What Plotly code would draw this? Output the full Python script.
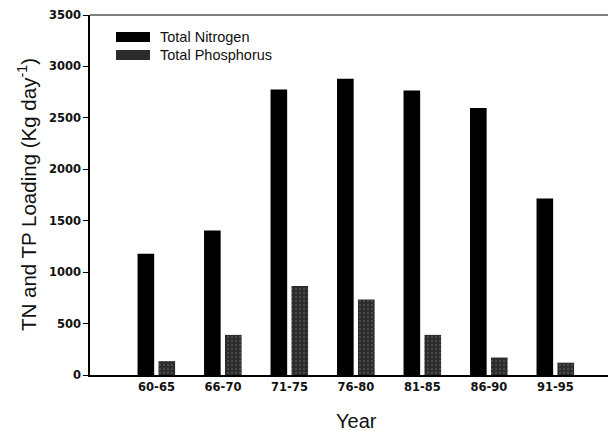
import plotly.graph_objects as go

periods = ["60-65", "66-70", "71-75", "76-80", "81-85", "86-90", "91-95"]
total_nitrogen = [1180, 1405, 2775, 2880, 2765, 2595, 1715]
total_phosphorus = [135, 390, 865, 735, 390, 170, 120]
y_ticks = [0, 500, 1000, 1500, 2000, 2500, 3000, 3500]
series_names = ["Total Nitrogen", "Total Phosphorus"]

TN_COLOR = "#000000"
TP_COLOR = "#2b2b2b"
TP_PATTERN = dict(shape=".", fgcolor="#6a6a6a", size=4, solidity=0.25)

W, H = 608, 431
ML, MR, MT, MB = 90, 0, 15, 56

fig = go.Figure()
fig.add_trace(go.Bar(
    x=periods, y=total_nitrogen, name=series_names[0],
    marker=dict(color=TN_COLOR, line=dict(width=0)),
    width=0.25, offset=-0.285,
))
fig.add_trace(go.Bar(
    x=periods, y=total_phosphorus, name=series_names[1],
    marker=dict(color=TP_COLOR, line=dict(width=0), pattern=TP_PATTERN),
    width=0.25, offset=0.03,
))

tick_font = dict(size=11.5, family="DejaVu Sans, Arial, sans-serif", weight="bold", color="#111")

fig.update_layout(
    width=W, height=H,
    margin=dict(l=ML, r=MR, t=MT, b=MB, autoexpand=False),
    paper_bgcolor="white", plot_bgcolor="white",
    font=dict(family="Arial, Liberation Sans, sans-serif", color="#000"),
    showlegend=False,
    xaxis=dict(
        type="category", range=[-1.0, 6.79], automargin=False,
        showline=True, linecolor="#000", linewidth=1.5,
        ticks="", showgrid=False, zeroline=False,
        tickfont=tick_font,
    ),
    yaxis=dict(
        range=[0, 3500], tickvals=y_ticks, automargin=False,
        showline=True, linecolor="#000", linewidth=1.5,
        ticks="outside", ticklen=5, tickcolor="#000",
        showgrid=False, zeroline=False,
        tickfont=tick_font,
    ),
)

# frame line on top
fig.add_shape(type="line", xref="paper", yref="paper", x0=0, x1=1, y0=1, y1=1,
              line=dict(color="#555", width=1.5))

# axis titles
fig.add_annotation(text="TN and TP Loading (Kg day<sup>-1</sup>)", xref="paper", yref="paper",
                   x=-(ML - 27) / (W - ML - MR), y=0.5, textangle=-90,
                   showarrow=False, font=dict(size=20.5, color="#111"),
                   xanchor="center", yanchor="middle")
fig.add_annotation(text="Year", xref="paper", yref="paper",
                   x=(356 - ML) / (W - ML - MR), y=-(421 - (H - MB)) / (H - MT - MB),
                   showarrow=False, font=dict(size=20, color="#111"),
                   xanchor="center", yanchor="middle")

# legend drawn as swatches + text
pw, ph = W - ML - MR, H - MT - MB
legend_rows = [(37, TN_COLOR, None), (55, TP_COLOR, TP_PATTERN)]
for name, (yc, col, pat) in zip(series_names, legend_rows):
    x0 = (116 - ML) / pw
    x1 = (150 - ML) / pw
    y0 = 1 - (yc - 5 - MT) / ph
    y1 = 1 - (yc + 5 - MT) / ph
    fig.add_shape(type="rect", xref="paper", yref="paper", x0=x0, x1=x1, y0=y1, y1=y0,
                  fillcolor=col, line=dict(width=0))
    fig.add_annotation(text=name, xref="paper", yref="paper",
                       x=(158 - ML) / pw, y=1 - (yc - MT) / ph,
                       xanchor="left", yanchor="middle", showarrow=False,
                       font=dict(size=14.5, color="#111"))

fig.write_html("out.html", config={"displayModeBar": False},
               post_script="document.body.style.margin='0';document.body.style.overflow='hidden';")
